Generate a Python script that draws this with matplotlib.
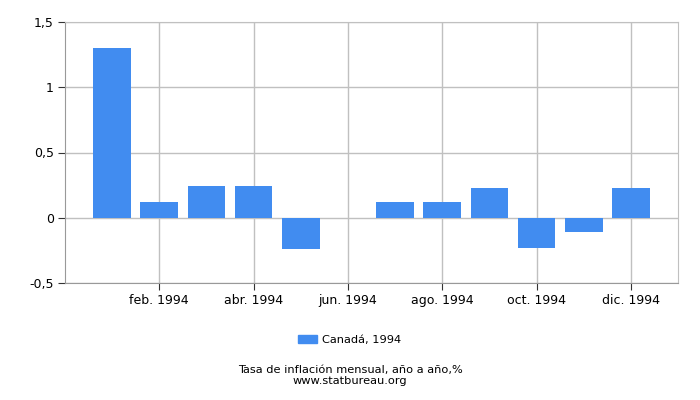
import numpy as np
import matplotlib.pyplot as plt
from matplotlib.patches import Patch

# =========================
# DATA
# =========================
months = ["ene.", "feb.", "mar.", "abr.", "may.", "jun.",
          "jul.", "ago.", "sep.", "oct.", "nov.", "dic."]
values = [1.30, 0.12, 0.24, 0.24, -0.24, 0.0,
          0.12, 0.12, 0.23, -0.23, -0.11, 0.23]
year = "1994"
series_label = "Canadá, 1994"
y_ticks = [-0.5, 0, 0.5, 1, 1.5]
y_tick_labels = ["-0,5", "0", "0,5", "1", "1,5"]

BAR_COLOR = "#418cf0"
GRID_COLOR = "#c0c0c0"

# =========================
# PLOT
# =========================
fig = plt.figure(figsize=(7, 4), dpi=100)
ax = fig.add_axes([65/700, 1 - 283/400, 613/700, 261/400])

x = np.arange(len(months))
ax.bar(x, values, width=0.8, color=BAR_COLOR, zorder=3)

ax.set_xlim(-1, 12)
ax.set_ylim(-0.5, 1.5)

tick_idx = x[1::2]
ax.set_xticks(tick_idx)
ax.set_xticklabels([f"{months[i]} {year}" for i in tick_idx], fontsize=9)
ax.set_yticks(y_ticks)
ax.set_yticklabels(y_tick_labels, fontsize=9)

ax.grid(True, color=GRID_COLOR, linewidth=1, zorder=0)
ax.tick_params(axis="both", length=5, color="#333333", pad=3)
for side in ["left", "bottom"]:
    ax.spines[side].set_color("#999999")
for side in ["top", "right"]:
    ax.spines[side].set_color(GRID_COLOR)

# legend and captions
fig.legend(handles=[Patch(color=BAR_COLOR, label=series_label)],
           loc="center", bbox_to_anchor=(0.5, 1 - 340/400),
           frameon=False, fontsize=8.2, handlelength=1.6, handleheight=0.7,
           handletextpad=0.5)
fig.text(0.5, 1 - 370/400, "Tasa de inflación mensual, año a año,%",
         ha="center", va="center", fontsize=8.2)
fig.text(0.5, 1 - 381.5/400, "www.statbureau.org",
         ha="center", va="center", fontsize=8.2)

plt.savefig("out.png", dpi=100)
